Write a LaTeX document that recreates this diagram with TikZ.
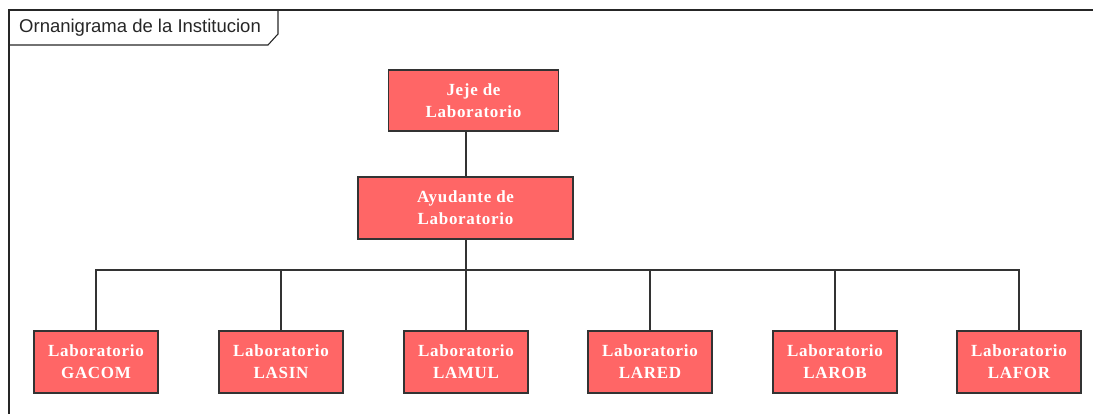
\documentclass[tikz,border=0pt]{standalone}
\usepackage{fontspec}
\setmainfont{Liberation Serif}
\setsansfont{Liberation Sans}
\definecolor{boxfill}{HTML}{FF6666}
\definecolor{edge}{HTML}{333333}
\begin{document}
\begin{tikzpicture}[x=1pt,y=-1pt,
  unit/.style={draw=edge, line width=1.3pt, fill=boxfill, text=white,
    align=center, inner sep=0pt,
    font=\bfseries\addfontfeatures{LetterSpace=4}\fontsize{17}{22}\selectfont},
  headbox/.style={unit, minimum width=170pt, minimum height=61pt},
  assistbox/.style={unit, minimum width=215pt, minimum height=62pt},
  labbox/.style={unit, minimum width=124pt, minimum height=62pt},
  link/.style={draw=edge, line width=1.4pt},
  frameline/.style={draw=black!85, line width=1.1pt}]
  \useasboundingbox (0,0) rectangle (1093,413);

  % outer frame and its title tab
  \draw[frameline] (1100,10) -- (9,10) -- (9,420);
  \draw[frameline] (9,45) -- (268,45) -- (278,34) -- (278,10);
  \node[anchor=west, inner sep=0pt, font=\sffamily\fontsize{18.5}{22}\selectfont, text=black!85]
    (title) at (19,28) {Ornanigrama de la Institucion};

  % hierarchy
  \node[headbox] (jefe) at (473.5,100.5) {Jeje de\\Laboratorio};
  \node[assistbox] (ayud) at (465.5,208) {Ayudante de\\Laboratorio};

  \node[labbox] (gacom) at (96,362) {Laboratorio\\GACOM};
  \node[labbox] (lasin) at (281,362) {Laboratorio\\LASIN};
  \node[labbox] (lamul) at (466,362) {Laboratorio\\LAMUL};
  \node[labbox] (lared) at (650,362) {Laboratorio\\LARED};
  \node[labbox] (larob) at (835,362) {Laboratorio\\LAROB};
  \node[labbox] (lafor) at (1019,362) {Laboratorio\\LAFOR};

  \coordinate (bus) at (466,270);

  % connectors
  \draw[link] (jefe.south -| bus) -- (ayud.north -| bus);
  \draw[link] (ayud.south -| bus) -- (bus);
  \draw[link] (gacom.north) -- (gacom.north |- bus) -- (lafor.north |- bus) -- (lafor.north);
  \foreach \n in {lasin,lamul,lared,larob}
    \draw[link] (\n.north) -- (\n.north |- bus);
\end{tikzpicture}
\end{document}
